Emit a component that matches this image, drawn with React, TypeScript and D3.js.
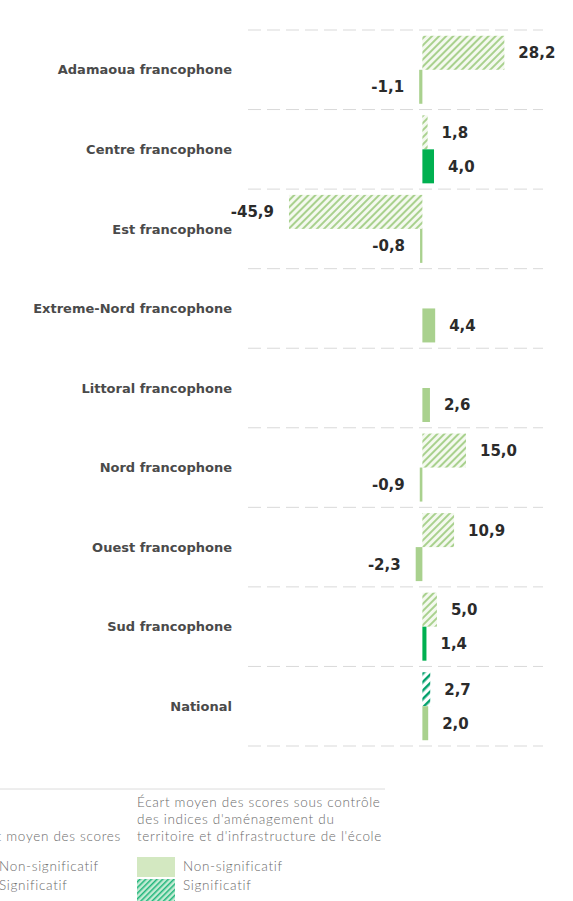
import React from "react";
import * as d3 from "d3";

const categories = [
  "Adamaoua francophone",
  "Centre francophone",
  "Est francophone",
  "Extreme-Nord francophone",
  "Littoral francophone",
  "Nord francophone",
  "Ouest francophone",
  "Sud francophone",
  "National",
];
// top bar of each pair (hatched)
const rawGap: (number | null)[] = [28.2, 1.8, -45.9, null, null, 15.0, 10.9, 5.0, 2.7];
const rawSignif = [false, false, false, false, false, false, false, false, true];
// bottom bar of each pair (solid)
const adjGap: (number | null)[] = [-1.1, 4.0, -0.8, 4.4, 2.6, -0.9, -2.3, 1.4, 2.0];
const adjSignif = [false, true, false, false, false, false, false, true, false];

const seriesKeys = ["raw", "adj"];

const W = 573;
const H = 901;

const locale = d3.formatLocale({
  decimal: ",",
  thousands: " ",
  grouping: [3],
  currency: ["", ""],
  minus: "-",
});
const fmt = locale.format(".1f");

export default function App() {
  const x = d3.scaleLinear().domain([-60, 41.5]).range([248, 543]);
  const y = d3.scaleBand<string>().domain(categories).range([30, 746]);
  const sub = d3
    .scaleBand<string>()
    .domain(seriesKeys)
    .range([0, y.bandwidth()])
    .paddingOuter(0.17)
    .paddingInner(0);

  const gridYs = [...categories.map((c) => y(c)!), 746];

  const bar = (
    v: number | null,
    sig: boolean,
    key: string,
    cat: string,
    i: number
  ) => {
    if (v == null) return null;
    const y0 = y(cat)! + sub(key)!;
    const h = sub.bandwidth();
    const x0 = Math.min(x(0), x(v));
    const w = Math.abs(x(v) - x(0));
    let fill: string;
    if (key === "raw") fill = sig ? "url(#hatchSig)" : "url(#hatchLight)";
    else fill = sig ? "#00b050" : "#a9d18e";
    const pos = v >= 0;
    return (
      <g key={key + i}>
        <rect x={x0} y={y0} width={w} height={h} fill={fill} />
        <text
          x={pos ? x(v) + 14 : x(v) - 15}
          y={y0 + h / 2}
          dy="0.36em"
          textAnchor={pos ? "start" : "end"}
          fontFamily="DejaVu Sans"
          fontWeight={700}
          fontSize={15}
          fill="#2b2b2b"
        >
          {fmt(v)}
        </text>
      </g>
    );
  };

  return (
    <>
      <style>{`body{margin:0}`}</style>
      <svg width={W} height={H} style={{ display: "block" }}>
        <defs>
          <pattern
            id="hatchLight"
            width={5}
            height={5}
            patternUnits="userSpaceOnUse"
            patternTransform="rotate(45)"
          >
            <rect width={5} height={5} fill="#f4f9ef" />
            <line x1={0} y1={0} x2={0} y2={5} stroke="#a9d18e" strokeWidth={4} />
          </pattern>
          <pattern
            id="hatchSig"
            width={6}
            height={6}
            patternUnits="userSpaceOnUse"
            patternTransform="rotate(45)"
          >
            <rect width={6} height={6} fill="#ffffff" />
            <line x1={0} y1={0} x2={0} y2={6} stroke="#00a06a" strokeWidth={5} />
          </pattern>
          <pattern
            id="hatchLegend"
            width={4}
            height={4}
            patternUnits="userSpaceOnUse"
            patternTransform="rotate(45)"
          >
            <rect width={4} height={4} fill="#c4ebd4" />
            <line x1={0} y1={0} x2={0} y2={4} stroke="#1fb57a" strokeWidth={3} />
          </pattern>
        </defs>

        {gridYs.map((gy, i) => (
          <line
            key={i}
            x1={248}
            x2={543}
            y1={gy}
            y2={gy}
            stroke="#d9d9d9"
            strokeDasharray="13,6"
          />
        ))}

        {categories.map((c) => (
          <text
            key={c}
            x={232}
            y={y(c)! + y.bandwidth() / 2}
            dy="0.36em"
            textAnchor="end"
            fontFamily="DejaVu Sans"
            fontWeight={700}
            fontSize={13}
            fill="#4a4a4a"
          >
            {c}
          </text>
        ))}

        {categories.map((c, i) => (
          <g key={c}>
            {bar(rawGap[i], rawSignif[i], "raw", c, i)}
            {bar(adjGap[i], adjSignif[i], "adj", c, i)}
          </g>
        ))}

        {/* Legend */}
        <line x1={0} x2={385} y1={789} y2={789} stroke="#dcdcdc" />
        <g
          fontFamily="Lato"
          fontWeight={300}
          fontSize={13.5}
          letterSpacing={0.7}
          fill="#6b6b6b"
        >
          <text x={121} y={841} textAnchor="end">
            Écart moyen des scores
          </text>
          <text x={-1} y={871}>Non-significatif</text>
          <text x={-1} y={890}>Significatif</text>

          <text x={137} y={807}>Écart moyen des scores sous contrôle</text>
          <text x={137} y={824}>des indices d'aménagement du</text>
          <text x={137} y={841}>territoire et d'infrastructure de l'école</text>
          <rect x={137} y={857} width={38} height={20} fill="#d3e8c1" />
          <rect x={137} y={879} width={38} height={22} fill="url(#hatchLegend)" />
          <text x={183} y={871}>Non-significatif</text>
          <text x={183} y={890}>Significatif</text>
        </g>
      </svg>
    </>
  );
}
